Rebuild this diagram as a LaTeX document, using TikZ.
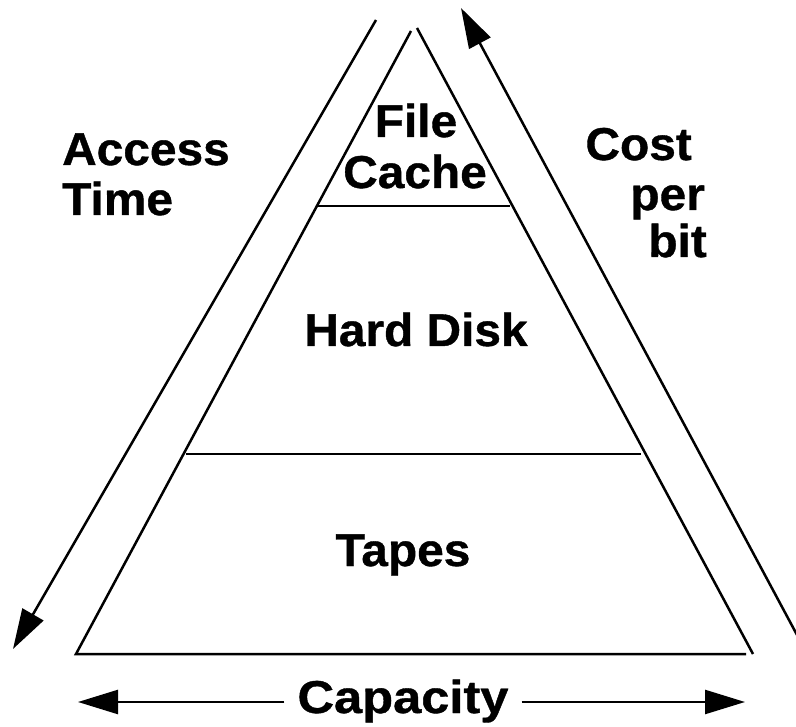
\documentclass[tikz,border=0pt]{standalone}
\usepackage{fontspec}
\setmainfont{Liberation Sans}
\newfontfamily\labelfont{Liberation Sans}[BoldFeatures={FakeBold=0.8}]
\usepackage{graphicx}
\usetikzlibrary{arrows.meta}
% labels are set slightly wide
\newcommand\widelabel[1]{\scalebox{1.04}[1]{#1}}
\tikzset{
  edge/.style={line width=2.5pt},
  pointer/.style={line width=2.5pt, -{Triangle[length=40pt,width=24pt]}},
  lbl/.style={inner sep=0pt, font=\fontsize{46}{52}\labelfont\bfseries},
}
\begin{document}
\begin{tikzpicture}[x=1pt,y=-1pt]
\useasboundingbox (0,0) rectangle (796,727);

% pyramid outline
\coordinate (apexL) at (411,31);
\coordinate (apexR) at (417,28);
\coordinate (baseL) at (76,654);
\coordinate (baseR) at (753,654);
\coordinate (baseEnd) at (746,654);
\draw[edge] (apexL) -- (baseL) -- (baseEnd);
\draw[edge] (apexR) -- (baseR);

% level separators
\coordinate (sepAL) at (318,206);
\coordinate (sepAR) at (510,206);
\coordinate (sepBL) at (186,454);
\coordinate (sepBR) at (641,454);
\draw[edge] (sepAL) -- (sepAR);
\draw[edge] (sepBL) -- (sepBR);

% level labels
\node[lbl, anchor=base] (file)  at (416,137) {\widelabel{File}};
\node[lbl, anchor=base] (cache) at (415,188) {\widelabel{Cache}};
\node[lbl, anchor=base] (hard)  at (416,346) {\widelabel{Hard Disk}};
\node[lbl, anchor=base] (tapes) at (403,566) {\widelabel{Tapes}};

% side labels
\node[lbl, anchor=base west] (access) at (62,165) {\widelabel{Access}};
\node[lbl, anchor=base west] (time)   at (62,215) {\widelabel{Time}};
\node[lbl, anchor=base east] (cost)   at (692,160) {\widelabel{Cost}};
\node[lbl, anchor=base east] (per)    at (705,210) {\widelabel{per}};
\node[lbl, anchor=base east] (bit)    at (707,257) {\widelabel{bit}};

% access time arrow
\coordinate (atStart) at (376,20);
\coordinate (atTip) at (13,649);
\draw[pointer] (atStart) -- (atTip);

% cost per bit arrow
\coordinate (cbStart) at (800,640.5);
\coordinate (cbTip) at (461,8);
\draw[pointer] (cbStart) -- (cbTip);

% capacity arrow
\node[lbl, inner xsep=13pt, anchor=base] (capacity) at (403,713) {\scalebox{1.1}[1]{Capacity}};
\coordinate (capTipL) at (78,702);
\coordinate (capTipR) at (745,702);
\coordinate (capL) at (capacity.west |- capTipL);
\coordinate (capR) at (capacity.east |- capTipR);
\draw[pointer] (capL) -- (capTipL);
\draw[pointer] (capR) -- (capTipR);
\end{tikzpicture}
\end{document}
